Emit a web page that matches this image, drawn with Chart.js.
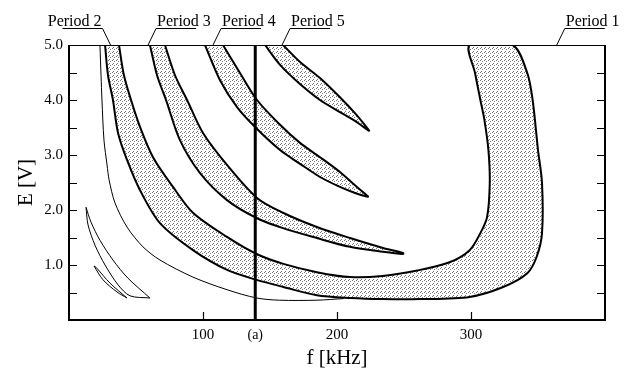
<!DOCTYPE html>
<html>
<head>
<meta charset="utf-8">
<script src="https://cdn.jsdelivr.net/npm/chart.js@4"></script>
<style>
  html, body { margin: 0; padding: 0; background: #fff; }
  #wrap { width: 629px; height: 369px; }
</style>
</head>
<body>
<div id="wrap"><canvas id="myChart"></canvas></div>
<script>
// curves, [f in kHz, E in V]
const bandOuter = [[26.9,5.0],[29.1,4.45],[32.8,4.0],[36.6,3.4],[43.3,2.91],[53,2.36],[67.9,1.76],[92.5,1.27],[118,0.91],[140,0.73],[160,0.6],[185,0.45],[210,0.4],[234,0.38],[262,0.38],[299,0.42],[324,0.6],[342,0.85],[349,1.15],[353,1.58],[353,2.49],[350,3.09],[346,4.0],[342,4.49],[331,5.0]]
const bandInner = [[37.3,5.0],[41,4.45],[46.3,4.0],[53,3.51],[62.7,2.96],[77.6,2.42],[92.5,1.95],[117.9,1.51],[140,1.2],[160,1.02],[185,0.87],[210,0.78],[234,0.8],[260,0.9],[284,1.05],[299,1.27],[307,1.58],[312,1.87],[314,2.49],[313,3.09],[310,3.64],[307,4.0],[303,4.49],[299,5.0]]
const p3Lower = [[60.4,5.0],[65.7,4.45],[72.4,4.0],[82.8,3.27],[97.8,2.67],[117.9,2.18],[140.3,1.85],[159.7,1.67],[185,1.49],[209.7,1.33],[234.3,1.24],[249.3,1.2]]
const p3Upper = [[71.6,5.0],[79.1,4.45],[88.1,4.0],[100,3.4],[117.9,2.82],[140.3,2.22],[159.7,1.95],[185,1.69],[209.7,1.49],[234.3,1.31],[249.3,1.22]]
const p4Lower = [[101.5,5.0],[112.7,4.36],[125.4,3.87],[139.6,3.49],[157.5,3.09],[172.4,2.84],[187.3,2.6],[202.2,2.42],[213.4,2.31],[223.1,2.24]]
const p4Upper = [[114.9,5.0],[127.6,4.49],[140.3,4.0],[157.5,3.55],[172.4,3.22],[187.3,2.96],[202.2,2.69],[213.4,2.45],[223.1,2.25]]
const p5Lower = [[146.3,5.0],[157.5,4.64],[172.4,4.29],[187.3,4.0],[202.2,3.78],[213.4,3.62],[223.9,3.44]]
const p5Upper = [[159.7,5.0],[172.4,4.69],[187.3,4.4],[202.2,4.05],[213.4,3.76],[223.9,3.45]]
const thinCurve = [[23.1,5.0],[23.9,4.45],[24.6,4.0],[26.1,3.27],[28.4,2.82],[29.9,2.55],[34.3,2.13],[43.3,1.69],[55.2,1.33],[67.9,1.09],[92.5,0.78],[118,0.55],[140,0.4],[157,0.36],[185,0.36],[205,0.39]]
const loopAOuter = [[12.7,2.05],[14.2,1.73],[19.4,1.36],[26.9,1.0],[36.6,0.64],[45.5,0.44],[60.4,0.4]]
const loopAInner = [[12.7,2.05],[16.4,1.78],[23.1,1.45],[32.8,1.09],[44,0.76],[60.4,0.4]]
const loopBOuter = [[18.7,0.98],[25.4,0.73],[35.8,0.51],[43.3,0.4]]
const loopBInner = [[18.7,0.98],[20.1,0.96],[30.6,0.67],[43.3,0.4]]

const markerF = 139
const xTicks = [100, 200, 300]
const yTicks = [1, 2, 3, 4, 5]
const yTickMarks = [0.5, 1, 1.5, 2, 2.5, 3, 3.5, 4, 4.5]

const periodNames = ["Period 2", "Period 3", "Period 4", "Period 5", "Period 1"]
const periodPointAt = [31, 59, 107.5, 159, 364]
const periodSide = [-1, 1, 1, 1, 1]

const serif = "'Liberation Serif', 'Times New Roman', serif"

function pts(arr) {
    return arr.map(p => ({x: p[0], y: p[1]}))
}

function shape(a, b) {
    // go down one edge, come back up the other
    return pts(a.concat(b.slice().reverse()))
}

function stipple() {
    let c = document.createElement("canvas")
    c.width = 4
    c.height = 4
    let g = c.getContext("2d")
    g.fillStyle = "#777"
    g.fillRect(0, 0, 1, 1)
    g.fillRect(2, 1, 1, 1)
    g.fillRect(1, 3, 1, 1)
    return g.createPattern(c, "repeat")
}

const decor = {
    id: "decor",
    afterDatasetsDraw(chart) {
        const {ctx, chartArea: a, scales: {x, y}} = chart
        ctx.save()
        ctx.strokeStyle = "#000"
        ctx.fillStyle = "#000"

        // inward tick marks
        ctx.lineWidth = 1.2
        ctx.beginPath()
        yTickMarks.forEach(v => {
            let py = Math.round(y.getPixelForValue(v)) + 0.5
            ctx.moveTo(a.left, py); ctx.lineTo(a.left + 8, py)
            ctx.moveTo(a.right, py); ctx.lineTo(a.right - 8, py)
        })
        xTicks.forEach(v => {
            let px = Math.round(x.getPixelForValue(v)) + 0.5
            ctx.moveTo(px, a.bottom); ctx.lineTo(px, a.bottom - 8)
        })
        ctx.stroke()

        // frame: heavy left/bottom/right, light top
        ctx.lineWidth = 2
        ctx.beginPath()
        ctx.moveTo(a.left, a.top)
        ctx.lineTo(a.left, a.bottom)
        ctx.lineTo(a.right, a.bottom)
        ctx.lineTo(a.right, a.top)
        ctx.stroke()
        ctx.lineWidth = 1
        ctx.beginPath()
        ctx.moveTo(a.left, a.top + 0.5)
        ctx.lineTo(a.right, a.top + 0.5)
        ctx.stroke()

        // period labels with leaders
        ctx.font = "16px " + serif
        ctx.textBaseline = "alphabetic"
        ctx.lineWidth = 1
        periodNames.forEach((name, i) => {
            let tx = x.getPixelForValue(periodPointAt[i])
            let s = periodSide[i]
            let cx = tx + s * 8
            let cy = a.top - 16.5
            ctx.beginPath()
            ctx.moveTo(tx, a.top)
            ctx.lineTo(cx, cy)
            ctx.lineTo(cx + s * 40, cy)
            ctx.stroke()
            ctx.textAlign = s < 0 ? "right" : "left"
            ctx.fillText(name, cx + s * 1, cy - 3)
        })

        // marker label
        ctx.font = "14px " + serif
        ctx.textAlign = "center"
        ctx.textBaseline = "middle"
        ctx.fillText("(a)", x.getPixelForValue(markerF), a.bottom + 15)
        ctx.restore()
    }
}

function createChart() {
    let htmlChart = document.getElementById("myChart")
    let dots = stipple()

    new Chart(htmlChart, {
        type: "line",
        data: {
            datasets: [
                {   // vertical marker (a)
                    data: pts([[markerF, 0], [markerF, 5]]),
                    borderColor: "#000",
                    borderWidth: 3,
                    tension: 0,
                },
                {
                    data: shape(bandOuter, bandInner),
                    borderColor: "#000",
                    borderWidth: 2,
                    backgroundColor: dots,
                    fill: "shape",
                    tension: 0.3,
                },
                {
                    data: shape(p3Lower, p3Upper),
                    borderColor: "#000",
                    borderWidth: 2,
                    backgroundColor: dots,
                    fill: "shape",
                    tension: 0.3,
                },
                {
                    data: shape(p4Lower, p4Upper),
                    borderColor: "#000",
                    borderWidth: 2,
                    backgroundColor: dots,
                    fill: "shape",
                    tension: 0.3,
                },
                {
                    data: shape(p5Lower, p5Upper),
                    borderColor: "#000",
                    borderWidth: 2,
                    backgroundColor: dots,
                    fill: "shape",
                    tension: 0.3,
                },
                {
                    data: pts(thinCurve),
                    borderColor: "#000",
                    borderWidth: 1,
                    tension: 0.3,
                },
                {
                    data: shape(loopAOuter, loopAInner),
                    borderColor: "#000",
                    borderWidth: 1,
                    tension: 0.3,
                },
                {
                    data: shape(loopBOuter, loopBInner),
                    borderColor: "#000",
                    borderWidth: 1,
                    tension: 0.3,
                }
            ]
        },
        options: {
            responsive: true,
            maintainAspectRatio: false,
            animation: false,
            elements: { point: { radius: 0, hoverRadius: 0 } },
            layout: { padding: { top: 45, right: 24, left: 0, bottom: 0 } },
            plugins: {
                legend: { display: false },
                tooltip: { enabled: false }
            },
            scales: {
                x: {
                    type: "linear",
                    min: 0,
                    max: 400,
                    afterBuildTicks: s => { s.ticks = xTicks.map(v => ({value: v})) },
                    afterFit: s => { s.height = 49 },
                    grid: { display: false, drawTicks: false },
                    border: { display: false },
                    ticks: {
                        color: "#000",
                        padding: 6,
                        font: { family: serif, size: 15 },
                        callback: v => String(v)
                    },
                    title: {
                        display: true,
                        text: "f [kHz]",
                        color: "#000",
                        font: { family: serif, size: 21, lineHeight: 1 },
                        padding: { top: 0, bottom: 0 }
                    }
                },
                y: {
                    min: 0,
                    max: 5,
                    afterBuildTicks: s => { s.ticks = yTicks.map(v => ({value: v})) },
                    afterFit: s => { s.width = 69 },
                    grid: { display: false, drawTicks: false },
                    border: { display: false },
                    ticks: {
                        color: "#000",
                        padding: 6,
                        font: { family: serif, size: 15 },
                        callback: v => v.toFixed(1)
                    },
                    title: {
                        display: true,
                        text: "E [V]",
                        color: "#000",
                        font: { family: serif, size: 21, lineHeight: 1 },
                        padding: { top: 15.5, bottom: 0 }
                    }
                }
            }
        },
        plugins: [decor]
    })
}

createChart()
</script>
</body>
</html>
